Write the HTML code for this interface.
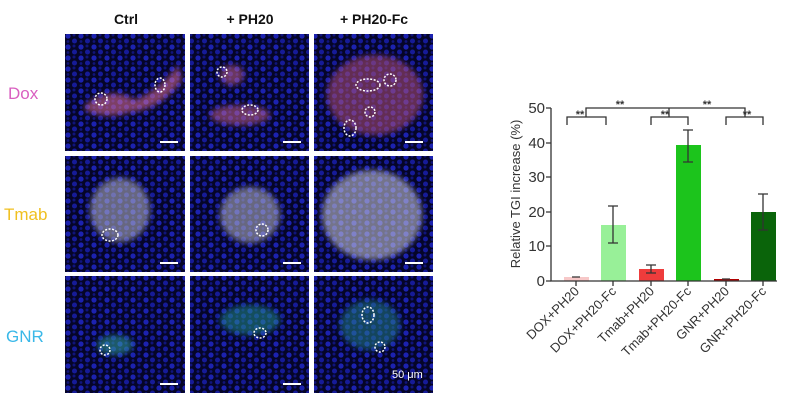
<!DOCTYPE html>
<html><head><style>
body{margin:0;background:#fff;width:785px;height:402px;overflow:hidden;font-family:"Liberation Sans",sans-serif}
</style></head><body>
<svg width="785" height="402" xmlns="http://www.w3.org/2000/svg" font-family="Liberation Sans, sans-serif">
<defs>
<pattern id="nuc" width="13" height="11" patternUnits="userSpaceOnUse">
<rect width="13" height="11" fill="#050528"/>
<circle cx="3" cy="3" r="2.6" fill="#1c22b0"/>
<circle cx="9.5" cy="8" r="2.5" fill="#161b98"/>
<circle cx="9" cy="2" r="1.5" fill="#10147a"/>
<circle cx="3" cy="8.5" r="1.4" fill="#10147a"/>
</pattern>
<filter id="bl"><feGaussianBlur stdDeviation="3"/></filter>
</defs>
<g font-weight="bold" font-size="14" text-anchor="middle" fill="#111">
<text x="126" y="24">Ctrl</text><text x="250" y="24">+ PH20</text><text x="374" y="24">+ PH20-Fc</text>
</g>
<g font-size="17">
<text x="8" y="99" fill="#d95fc0">Dox</text>
<text x="4" y="220" fill="#f0c020">Tmab</text>
<text x="6" y="342" fill="#3ab8e8">GNR</text>
</g>
<g>
<rect x="65" y="34" width="120" height="117" fill="url(#nuc)"/>
<rect x="190" y="34" width="119" height="117" fill="url(#nuc)"/>
<rect x="314" y="34" width="119" height="117" fill="url(#nuc)"/>
<rect x="65" y="156" width="120" height="116" fill="url(#nuc)"/>
<rect x="190" y="156" width="119" height="116" fill="url(#nuc)"/>
<rect x="314" y="156" width="119" height="116" fill="url(#nuc)"/>
<rect x="65" y="276" width="120" height="117" fill="url(#nuc)"/>
<rect x="190" y="276" width="119" height="117" fill="url(#nuc)"/>
<rect x="314" y="276" width="119" height="117" fill="url(#nuc)"/>
</g>
<g filter="url(#bl)" opacity="0.55">
<path d="M85 105 Q110 85 135 100 Q160 90 178 65 L182 80 Q160 110 130 112 Q105 120 85 110Z" fill="#e0709a"/>
<ellipse cx="240" cy="115" rx="30" ry="10" fill="#c06090"/>
<ellipse cx="232" cy="75" rx="12" ry="10" fill="#c06090"/>
<ellipse cx="375" cy="95" rx="48" ry="40" fill="#b05078"/>
<ellipse cx="120" cy="210" rx="30" ry="32" fill="#b8b8c8"/>
<ellipse cx="250" cy="215" rx="30" ry="28" fill="#b8b8c8"/>
<ellipse cx="372" cy="215" rx="50" ry="45" fill="#d0d0dc"/>
<ellipse cx="115" cy="345" rx="18" ry="10" fill="#30a0a0"/>
<ellipse cx="250" cy="320" rx="30" ry="15" fill="#208a8a"/>
<ellipse cx="370" cy="325" rx="30" ry="25" fill="#207a8a"/>
</g>
<g stroke="#fff" stroke-width="1.5" fill="none" stroke-dasharray="2 1.5">
<ellipse cx="101" cy="99" rx="6" ry="6"/><ellipse cx="160" cy="85" rx="5" ry="7"/>
<ellipse cx="222" cy="72" rx="5" ry="5"/><ellipse cx="250" cy="110" rx="8" ry="5"/>
<ellipse cx="368" cy="85" rx="12" ry="6"/><ellipse cx="390" cy="80" rx="6" ry="6"/><ellipse cx="350" cy="128" rx="6" ry="8"/><ellipse cx="370" cy="112" rx="5" ry="5"/>
<ellipse cx="110" cy="235" rx="8" ry="6"/><ellipse cx="262" cy="230" rx="6" ry="6"/>
<ellipse cx="260" cy="333" rx="6" ry="5"/><ellipse cx="368" cy="315" rx="6" ry="8"/><ellipse cx="380" cy="347" rx="5" ry="5"/><ellipse cx="105" cy="350" rx="5" ry="5"/>
</g>
<g stroke="#fff" stroke-width="2">
<line x1="160" y1="142" x2="178" y2="142"/><line x1="283" y1="142" x2="301" y2="142"/><line x1="405" y1="142" x2="423" y2="142"/>
<line x1="160" y1="263" x2="178" y2="263"/><line x1="283" y1="263" x2="301" y2="263"/><line x1="405" y1="263" x2="423" y2="263"/>
<line x1="160" y1="384" x2="178" y2="384"/><line x1="283" y1="384" x2="301" y2="384"/>
</g>
<text x="392" y="378" font-size="11" fill="#fff">50 μm</text>
<g font-size="15" fill="#333" text-anchor="end">
<text x="545" y="113">50</text><text x="545" y="148">40</text><text x="545" y="182">30</text>
<text x="545" y="217">20</text><text x="545" y="251">10</text><text x="545" y="286">0</text>
</g>
<text transform="translate(520,194) rotate(-90)" font-size="13" fill="#333" text-anchor="middle">Relative TGI increase (%)</text>
<g>
<rect x="564" y="277" width="25" height="4" fill="#f7c8c8"/>
<rect x="601" y="225" width="25" height="56" fill="#98f098"/>
<rect x="639" y="269" width="25" height="12" fill="#ee3c3c"/>
<rect x="676" y="145" width="25" height="136" fill="#1cc41c"/>
<rect x="714" y="279" width="25" height="2" fill="#b00000"/>
<rect x="751" y="212" width="25" height="69" fill="#0a640a"/>
</g>
<g stroke="#333" stroke-width="1.3" fill="none">
<path d="M551 108V281H777"/>
<path d="M546 108h5M546 143h5M546 177h5M546 212h5M546 246h5M546 281h5"/>
<path d="M576 281v5M613 281v5M651 281v5M688 281v5M726 281v5M763 281v5"/>
<path d="M613 206v37M608 206h10M608 243h10"/>
<path d="M651 265v8M646 265h10M646 273h10"/>
<path d="M688 130v32M683 130h10M683 162h10"/>
<path d="M763 194v36M758 194h10M758 230h10"/>
<path d="M572 277h8M722 279h8"/>
<path d="M567 125v-8h39v8M651 125v-8h37v8M726 125v-8h37v8"/>
<path d="M586 117v-9h83v9M669 108h76v9"/>
</g>
<g font-size="11" fill="#333" text-anchor="middle" font-weight="bold">
<text x="580" y="118">**</text><text x="620" y="108">**</text><text x="665" y="118">**</text>
<text x="707" y="108">**</text><text x="747" y="118">**</text>
</g>
<g font-size="13" fill="#333" text-anchor="end">
<text transform="translate(580,292) rotate(-45)">DOX+PH20</text>
<text transform="translate(617,292) rotate(-45)">DOX+PH20-Fc</text>
<text transform="translate(655,292) rotate(-45)">Tmab+PH20</text>
<text transform="translate(692,292) rotate(-45)">Tmab+PH20-Fc</text>
<text transform="translate(730,292) rotate(-45)">GNR+PH20</text>
<text transform="translate(767,292) rotate(-45)">GNR+PH20-Fc</text>
</g>
</svg>
</body></html>
